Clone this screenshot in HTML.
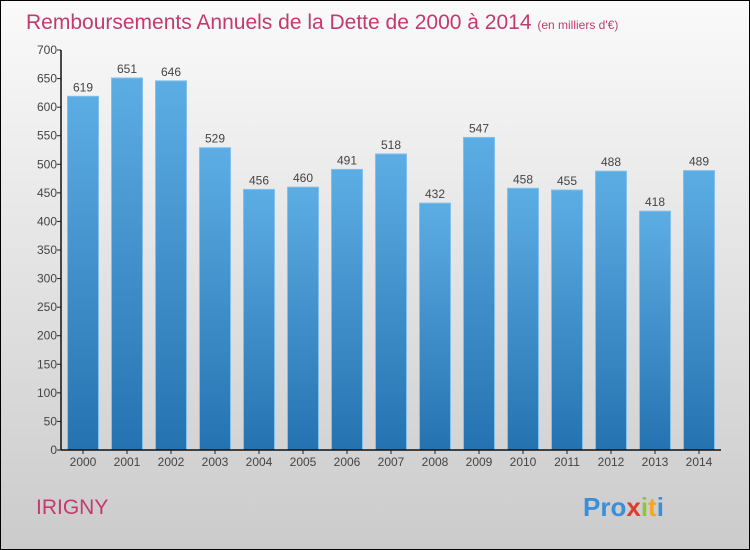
<!DOCTYPE html>
<html><head><meta charset="utf-8"><style>
body{margin:0}
#c{position:relative;width:748px;height:548px;border:1px solid #000;background:linear-gradient(#fafafa,#cbcbcb);overflow:hidden;font-family:"Liberation Sans",sans-serif}
</style></head><body>
<div id="c">
<svg width="748" height="548" style="position:absolute;left:0;top:0">
<defs><linearGradient id="bg" x1="0" y1="0" x2="0" y2="1"><stop offset="0" stop-color="#5dade5"/><stop offset="1" stop-color="#2572b0"/></linearGradient></defs>
<text x="25" y="28" font-size="21" fill="#c43a6e">Remboursements Annuels de la Dette de 2000 à 2014 <tspan font-size="12">(en milliers d'€)</tspan></text>
<g id="plot"></g>
<text x="35" y="513" font-size="21" fill="#c43a6e">IRIGNY</text>
<text x="582" y="515" font-size="26" font-weight="bold"><tspan fill="#3a8fd8">Pro</tspan><tspan fill="#e23a2a">x</tspan><tspan fill="#8cc63f">i</tspan><tspan fill="#f5a623">t</tspan><tspan fill="#3a8fd8">i</tspan></text>
</svg></div>
<script>
const categories=["2000","2001","2002","2003","2004","2005","2006","2007","2008","2009","2010","2011","2012","2013","2014"];
const values=[619,651,646,529,456,460,491,518,432,547,458,455,488,418,489];
const yTicks=[0,50,100,150,200,250,300,350,400,450,500,550,600,650,700];
const ns="http://www.w3.org/2000/svg",g=document.getElementById('plot');
const x0=60,band=44,yb=449,ymax=700,h=400;
const y=v=>yb-v/ymax*h, x=i=>x0+band*i+band/2;
function mk(t,a,txt){const e=document.createElementNS(ns,t);for(const k in a)e.setAttribute(k,a[k]);if(txt!=null)e.textContent=txt;g.appendChild(e);return e;}
values.forEach((v,i)=>{
 const r=mk('rect',{x:x(i)-15.5,y:y(v),width:31,height:yb-y(v),fill:'url(#bg)',stroke:'#7fc0ee','stroke-width':1});
 
 
 const t=mk('text',{x:x(i),y:y(v)-5,'text-anchor':'middle','font-size':12,fill:'#444'},String(v));
 
 
 const c=mk('text',{x:x(i),y:yb+16,'text-anchor':'middle','font-size':12,fill:'#444'},categories[i]);
 
 
 const tk=mk('line',{x1:x(i),x2:x(i),y1:yb,y2:yb+4,stroke:'#222'});
 
 
});
yTicks.forEach(v=>{
 const l=mk('line',{x1:x0-4,x2:x0,y1:y(v),y2:y(v),stroke:'#222'});
 
 
 const t=mk('text',{x:x0-4,y:y(v)+4,'text-anchor':'end','font-size':12,fill:'#444'},String(v));
 
 
});
const ya=mk('line',{x1:x0,x2:x0,y1:y(700),y2:yb,stroke:'#111','stroke-width':1.5});


const xa=mk('line',{x1:x0,x2:x0+band*15,y1:yb,y2:yb,stroke:'#111','stroke-width':1.5});


</script></body></html>
